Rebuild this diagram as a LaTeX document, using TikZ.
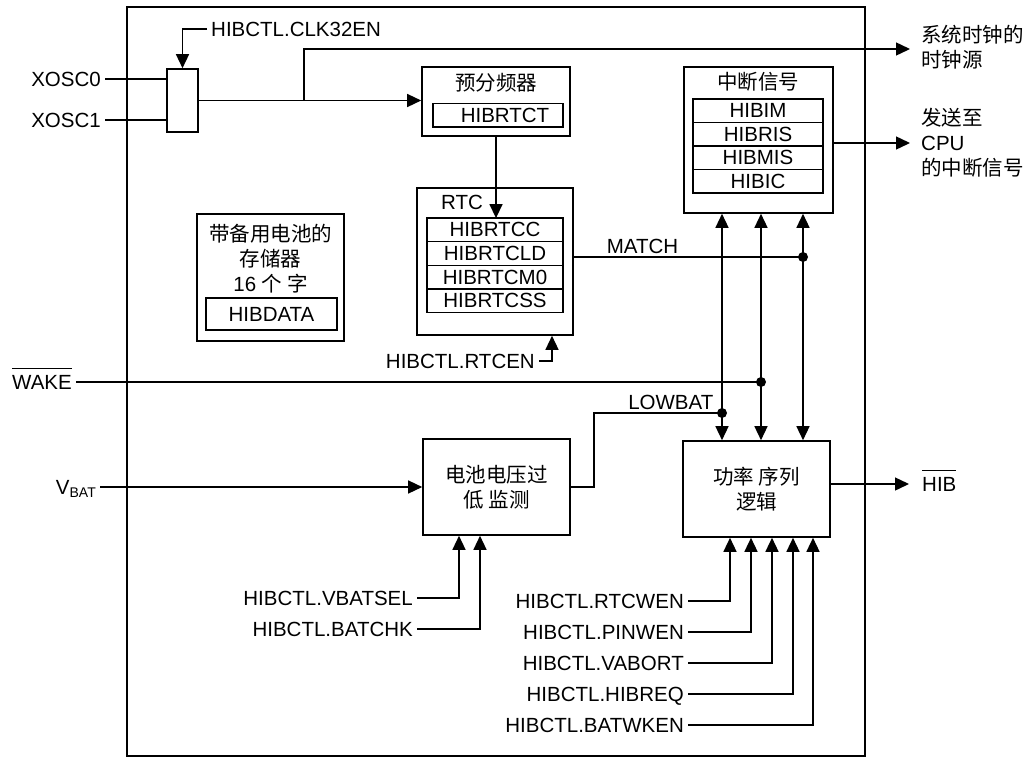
\documentclass[tikz,border=0pt]{standalone}
\usepackage{fontspec}
\setmainfont{Liberation Sans}
\newfontfamily\cjk{Noto Sans CJK SC}
\usetikzlibrary{arrows.meta,positioning}
\newcommand{\negsig}[1]{\setbox0\hbox{#1}\rlap{\rule[\dimexpr\ht0+6pt\relax]{\wd0}{1.3pt}}\box0}

\begin{document}
\begin{tikzpicture}[x=1pt,y=-1pt,font=\fontsize{20.5pt}{25pt}\selectfont]

  % Definitions
  \tikzstyle{Block} = [rectangle, draw=black, line width=1.6pt, text centered, inner sep=0pt]
  \tikzstyle{Reg} = [rectangle, draw=black, line width=1.4pt, inner sep=0pt, outer sep=0pt, minimum height=23.6pt]
  \tikzstyle{Label} = [inner sep=4pt, text height=14.7pt, text depth=0pt]
  \tikzstyle{wire} = [line width=1.4pt]
  \tikzstyle{arrow} = [line width=1.4pt, -{Triangle[length=14pt,width=13pt]}]
  \tikzstyle{both} = [line width=1.4pt, {Triangle[length=14pt,width=13pt]}-{Triangle[length=14pt,width=13pt]}]

  \useasboundingbox (0,0) rectangle (1028,758);

  \node (hibmod) [Block, line width=1.8pt, minimum width=738pt, minimum height=749pt] at (496,381.5) {};

  % clock select
  \node (mux) [Block, minimum width=31pt, minimum height=63pt] at (182.5,100.5) {};
  \node (xosc0) [Label, anchor=east] at (105,79) {XOSC0};
  \node (xosc1) [Label, anchor=east] at (105,120) {XOSC1};
  \node (clken) [Label, anchor=west] at (207,29) {HIBCTL.CLK32EN};
  \node (sysclk) [anchor=west, align=left, inner sep=3pt] at (918,47.5) {{\cjk 系统时钟的}\\{\cjk 时钟源}};
  \coordinate (br) at (304,100.5);
  \coordinate (clkout) at (910,49);

  % prescaler and RTC
  \node (pre) [Block, minimum width=148pt, minimum height=69pt] at (496,101.5) {};
  \node (preT) at (496,83) {\cjk 预分频器};
  \node (hibrtct) [Reg, minimum width=130pt] at (498,115) {\hspace{14pt}HIBRTCT};

  \node (rtc) [Block, minimum width=156pt, minimum height=147pt] at (495,261.5) {};
  \node (rtcT) at (462,202) {RTC};
  \node (rtcc) [Reg, minimum width=136pt] at (495,229.9) {HIBRTCC};
  \node (rtcld) [Reg, minimum width=136pt, below=0pt of rtcc] {HIBRTCLD};
  \node (rtcm0) [Reg, minimum width=136pt, below=0pt of rtcld] {HIBRTCM0};
  \node (rtcss) [Reg, minimum width=136pt, below=0pt of rtcm0] {HIBRTCSS};
  \node (rtcen) [Label, anchor=east] at (539,361) {HIBCTL.RTCEN};

  % interrupts
  \node (intr) [Block, minimum width=149pt, minimum height=146pt] at (758.5,140) {};
  \node (intrT) at (758,82) {\cjk 中断信号};
  \node (hibim) [Reg, minimum width=130pt, minimum height=23.5pt] at (758,110.75) {HIBIM};
  \node (hibris) [Reg, minimum width=130pt, minimum height=23.5pt, below=0pt of hibim] {HIBRIS};
  \node (hibmis) [Reg, minimum width=130pt, minimum height=23.5pt, below=0pt of hibris] {HIBMIS};
  \node (hibic) [Reg, minimum width=130pt, minimum height=23.5pt, below=0pt of hibmis] {HIBIC};
  \node (cpu) [anchor=west, align=left, inner sep=3pt] at (918,143) {{\cjk 发送至}\\CPU\\{\cjk 的中断信号}};
  \coordinate (cpuout) at (910,143);

  % battery backed memory
  \node (mem) [Block, minimum width=147pt, minimum height=127pt] at (270.5,277.5) {};
  \node (memT) [align=center] at (270.5,259) {{\cjk 带备用电池的}\\{\cjk 存储器}\\16 {\cjk 个 字}};
  \node (hibdata) [Reg, minimum width=131pt, minimum height=32pt] at (271.5,314) {HIBDATA};

  % battery monitor and power sequencing
  \node (bat) [Block, minimum width=147pt, minimum height=96pt, align=center] at (496.5,487) {{\cjk 电池电压过}\\{\cjk 低 监测}};
  \node (pwr) [Block, minimum width=147pt, minimum height=96pt, align=center] at (756.5,489) {{\cjk 功率 序列}\\{\cjk 逻辑}};
  \node (wake) [Label, anchor=east] at (76,382) {\negsig{WAKE}};
  \node (vbat) [Label, anchor=east] at (100,487) {V\raisebox{-3.5pt}{\fontsize{14pt}{14pt}\selectfont BAT}};
  \node (hib) [Label, anchor=west] at (918,484) {\negsig{HIB}};
  \coordinate (hibout) at (909,484);

  \node (vbatsel) [Label, anchor=east] at (417,598) {HIBCTL.VBATSEL};
  \node (batchk) [Label, anchor=east] at (417,629) {HIBCTL.BATCHK};
  \node (rtcwen) [Label, anchor=east] at (688,601) {HIBCTL.RTCWEN};
  \node (pinwen) [Label, anchor=east] at (688,632) {HIBCTL.PINWEN};
  \node (vabort) [Label, anchor=east] at (688,663) {HIBCTL.VABORT};
  \node (hibreq) [Label, anchor=east] at (688,694) {HIBCTL.HIBREQ};
  \node (batwken) [Label, anchor=east] at (688,725) {HIBCTL.BATWKEN};

  \coordinate (matchdot) at (803,257);
  \coordinate (wakedot) at (761,382);
  \coordinate (lowdot) at (722,413);
  \coordinate (lowbend) at (594,413);

  % connections
  \draw [wire] (xosc0.east) -- (xosc0.east -| mux.west);
  \draw [wire] (xosc1.east) -- (xosc1.east -| mux.west);
  \draw [arrow] (clken.west) -| (mux.north);
  \draw [arrow] (mux.east) -- (mux.east -| pre.west);
  \draw [arrow] (br) |- (clkout);
  \draw [arrow] (pre.south) -- (pre.south |- rtcc.north);
  \draw [arrow] (rtcen.east) -| ([xshift=57pt]rtc.south);
  \draw [arrow] (cpuout -| intr.east) -- (cpuout);

  \draw [wire] (matchdot -| rtc.east) -- node (matchlbl) [pos=0.3, anchor=south, inner sep=3pt] {MATCH} (matchdot);
  \draw [wire] (wake.east) -- (wakedot);
  \draw [wire] (bat.east) -| (lowbend) -- node (lowlbl) [pos=0.6, anchor=south, inner sep=3pt] {LOWBAT} (lowdot);
  \fill (matchdot) circle (5pt);
  \fill (wakedot) circle (5pt);
  \fill (lowdot) circle (5pt);

  \draw [both] (lowdot |- intr.south) -- (lowdot |- pwr.north);
  \draw [both] (wakedot |- intr.south) -- (wakedot |- pwr.north);
  \draw [both] (matchdot |- intr.south) -- (matchdot |- pwr.north);

  \draw [arrow] (vbat.east) -- (bat.west);
  \draw [arrow] (hibout -| pwr.east) -- (hibout);

  \draw [arrow] (vbatsel.east) -| ([xshift=-37.5pt]bat.south);
  \draw [arrow] (batchk.east) -| ([xshift=-16.5pt]bat.south);

  \draw [arrow] (rtcwen.east) -| ([xshift=-26.5pt]pwr.south);
  \draw [arrow] (pinwen.east) -| ([xshift=-5.5pt]pwr.south);
  \draw [arrow] (vabort.east) -| ([xshift=15.5pt]pwr.south);
  \draw [arrow] (hibreq.east) -| ([xshift=36.5pt]pwr.south);
  \draw [arrow] (batwken.east) -| ([xshift=56.5pt]pwr.south);

\end{tikzpicture}
\end{document}
